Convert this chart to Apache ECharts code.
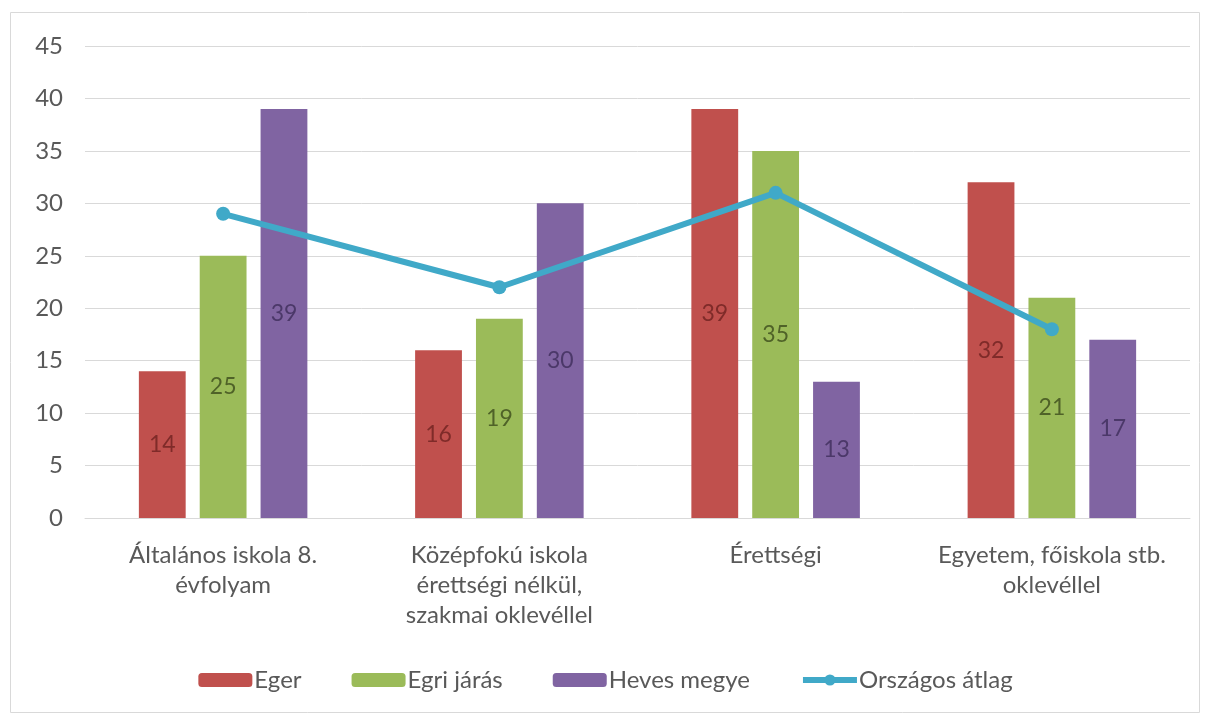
<!DOCTYPE html>
<html><head><meta charset="utf-8">
<script src="https://cdn.jsdelivr.net/npm/echarts@6/dist/echarts.min.js"></script>
<style>html,body{margin:0;padding:0;background:#fff}#c{width:1211px;height:719px}</style>
</head><body><div id="c"></div>
<script>
const categories = ['Általános iskola 8.\névfolyam', 'Középfokú iskola\nérettségi nélkül,\nszakmai oklevéllel', 'Érettségi', 'Egyetem, főiskola stb.\noklevéllel'];
const eger = [14, 16, 39, 32];
const egriJaras = [25, 19, 35, 21];
const hevesMegye = [39, 30, 13, 17];
const orszagos = [29, 22, 31, 18];
const seriesNames = ['Eger', 'Egri járás', 'Heves megye', 'Országos átlag'];

const FONT = 'Lato, "Open Sans", sans-serif';
const chart = echarts.init(document.getElementById('c'));
function barSeries(name, data, color, labelColor) {
  return {
    name, type: 'bar', data, barGap: '30%', barCategoryGap: '39%',
    itemStyle: { color },
    label: { show: true, position: 'inside', color: labelColor, fontSize: 23, fontFamily: FONT },
    z: 2
  };
}
chart.setOption({
  animation: false,
  textStyle: { fontFamily: FONT },
  graphic: [{ type: 'rect', shape: { x: 10.5, y: 12.5, width: 1189, height: 700 }, style: { fill: 'none', stroke: '#D9D9D9', lineWidth: 1 } }],
  grid: { left: 85, right: 21, top: 46, bottom: 201 },
  legend: {
    bottom: 22, left: 'center', itemWidth: 54, itemHeight: 14, itemGap: 50,
    textStyle: { fontSize: 24, color: '#595959', fontFamily: FONT, padding: [0, 0, 0, -3] },
    data: [seriesNames[0], seriesNames[1], seriesNames[2], { name: seriesNames[3], itemStyle: { color: '#40A9C8' }, lineStyle: { width: 6, color: '#40A9C8' } }]
  },
  xAxis: {
    type: 'category', data: categories,
    axisLine: { lineStyle: { color: '#D9D9D9' } },
    axisTick: { show: false },
    axisLabel: { fontSize: 24, color: '#595959', lineHeight: 30, margin: 22, interval: 0, fontFamily: FONT }
  },
  yAxis: {
    type: 'value', min: 0, max: 45, interval: 5,
    axisLine: { show: false }, axisTick: { show: false },
    splitLine: { lineStyle: { color: '#D9D9D9', width: 1 } },
    axisLabel: { fontSize: 24, color: '#595959', margin: 22, fontFamily: FONT }
  },
  series: [
    barSeries(seriesNames[0], eger, '#C0504D', '#7F2B29'),
    barSeries(seriesNames[1], egriJaras, '#9BBB59', '#4F6228'),
    barSeries(seriesNames[2], hevesMegye, '#8064A2', '#4B3869'),
    {
      name: seriesNames[3], type: 'line', data: orszagos,
      symbol: 'circle', symbolSize: 14,
      lineStyle: { color: '#40A9C8', width: 6 },
      itemStyle: { color: '#40A9C8' }, z: 3
    }
  ]
});
</script></body></html>
